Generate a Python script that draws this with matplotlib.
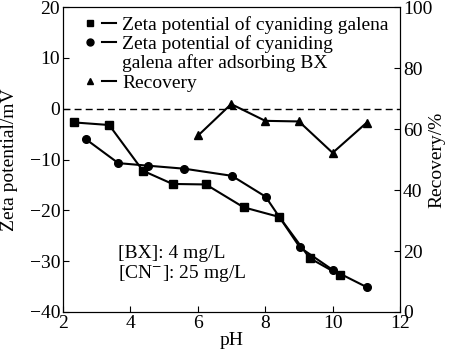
import matplotlib
matplotlib.use('Agg')
from matplotlib import pyplot as plt
from matplotlib.lines import Line2D
from matplotlib.legend_handler import HandlerTuple

# data
ph_galena = [2.34, 3.37, 4.37, 5.25, 6.24, 7.36, 8.42, 9.32, 10.23]
zeta_galena = [-2.7, -3.2, -12.2, -14.8, -14.9, -19.4, -21.3, -29.4, -32.8]

ph_bx = [2.68, 3.64, 4.51, 5.6, 7.01, 8.01, 9.03, 10.02, 11.01]
zeta_bx = [-6.0, -10.7, -11.2, -11.8, -13.2, -17.3, -27.3, -31.8, -35.1]

ph_rec = [6.01, 6.99, 8.0, 9.0, 10.0, 11.01]
recovery = [57.9, 68.2, 62.7, 62.5, 52.2, 62.1]

plt.rcParams['font.family'] = ['Liberation Serif', 'DejaVu Sans']
plt.rcParams['mathtext.fontset'] = 'stix'
plt.rcParams['font.size'] = 14

fig = plt.figure(figsize=(4.5, 3.56), dpi=100)
ax = fig.add_axes([0.14, 0.1236, 0.749, 0.8564])
ax2 = ax.twinx()

ax.plot(ph_galena, zeta_galena, color='black', lw=1.5, marker='s', ms=5.5)
ax.plot(ph_bx, zeta_bx, color='black', lw=1.5, marker='o', ms=5.5)
ax2.plot(ph_rec, recovery, color='black', lw=1.5, marker='^', ms=5.5)
ax.axhline(0, color='black', lw=1, ls=(0, (5, 3)))

ax.set_xlim(2, 12)
ax.set_ylim(-40, 20)
ax2.set_ylim(0, 100)
ax.set_xticks([2, 4, 6, 8, 10, 12])
ax.set_yticks([-40, -30, -20, -10, 0, 10, 20])
ax2.set_yticks([0, 20, 40, 60, 80, 100])
ax.tick_params(direction='in', length=4, pad=2)
ax2.tick_params(direction='in', length=4, pad=2)

ax.set_xlabel('pH', labelpad=0)
ax.set_ylabel('Zeta potential/mV')
ax2.set_ylabel('Recovery/%')
ax.yaxis.set_label_coords(-0.133, 0.5)
ax2.yaxis.set_label_coords(1.085, 0.5)

ax.text(3.62, -30.7, '[BX]: 4 mg/L\n[CN$^{-}$]: 25 mg/L', va='center', ha='left',
        linespacing=1.05)

# legend: marker, then a short line
def pair(m):
    return (Line2D([], [], color='black', marker=m, ls='none', ms=5),
            Line2D([], [], color='black', lw=1.5))

blank = Line2D([], [], ls='none')
handles = [pair('s'), pair('o'), blank, pair('^')]
labels = ['Zeta potential of cyaniding galena',
          'Zeta potential of cyaniding',
          'galena after adsorbing BX',
          'Recovery']
ax.legend(handles, labels, handler_map={tuple: HandlerTuple(ndivide=None, pad=0.25)},
          loc='upper left', bbox_to_anchor=(0.025, 1.01), frameon=False,
          handlelength=1.7, handletextpad=0.3, labelspacing=0.08,
          borderaxespad=0.2)

plt.savefig('out.png', dpi=100)
plt.close()
